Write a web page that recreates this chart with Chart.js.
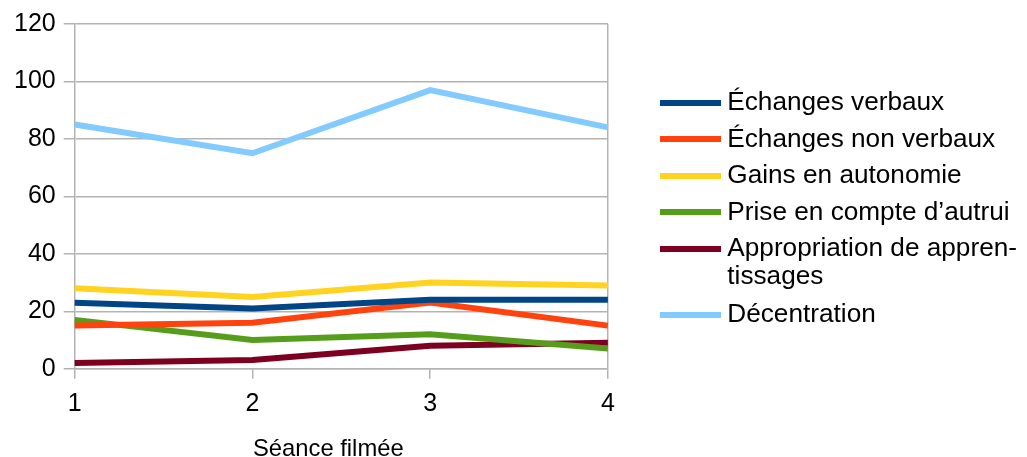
<!DOCTYPE html>
<html>
<head>
<meta charset="utf-8">
<script src="https://cdn.jsdelivr.net/npm/chart.js@4/dist/chart.umd.min.js"></script>
<style>
  html, body { margin: 0; padding: 0; background: #ffffff; }
  #wrap { width: 1027px; height: 457px; }
</style>
</head>
<body>
<div id="wrap"><canvas id="chart" width="1027" height="457"></canvas></div>
<script>
// Sessions filmed, and the observed counts per indicator
const seances = ['1', '2', '3', '4'];
const echangesVerbaux = [23, 21, 24, 24];
const echangesNonVerbaux = [15, 16, 23, 15];
const gainsAutonomie = [28, 25, 30, 29];
const priseEnCompte = [17, 10, 12, 7];
const appropriation = [2, 3, 8, 9];
const decentration = [85, 75, 97, 84];

const seriesNames = [
  'Échanges verbaux',
  'Échanges non verbaux',
  'Gains en autonomie',
  'Prise en compte d\u2019autrui',
  ['Appropriation de appren-', 'tissages'],
  'Décentration'
];
const seriesValues = [echangesVerbaux, echangesNonVerbaux, gainsAutonomie, priseEnCompte, appropriation, decentration];
const seriesColors = ['#004586', '#ff420e', '#ffd320', '#579d1c', '#7e0021', '#83caff'];

const yTicks = [0, 20, 40, 60, 80, 100, 120];
const xTitle = 'Séance filmée';

const FONT = '"Liberation Sans", Arial, sans-serif';
const GRID = '#b3b3b3';
const LINE_W = 6;

// short line swatch used as the key symbol of each series
function swatch(color) {
  const c = document.createElement('canvas');
  c.width = 61;
  c.height = LINE_W;
  const g = c.getContext('2d');
  g.fillStyle = color;
  g.fillRect(0, 0, c.width, c.height);
  return c;
}

// x-axis caption, set a little left of the plot centre, under the tick labels
const axisCaption = {
  id: 'axisCaption',
  afterDraw(chart) {
    const { ctx, chartArea } = chart;
    ctx.save();
    ctx.font = '23.8px ' + FONT;
    ctx.fillStyle = '#000000';
    ctx.textAlign = 'center';
    ctx.textBaseline = 'alphabetic';
    ctx.fillText(xTitle, (chartArea.left + chartArea.right) / 2 - 13, 456);
    ctx.restore();
  }
};

const datasets = seriesValues.map((vals, i) => ({
  label: seriesNames[i],
  data: vals,
  borderColor: seriesColors[i],
  backgroundColor: seriesColors[i],
  borderWidth: LINE_W,
  pointRadius: 0,
  pointHoverRadius: 0,
  tension: 0,
  fill: false
}));

new Chart(document.getElementById('chart'), {
  type: 'line',
  data: { labels: seances, datasets },
  plugins: [axisCaption],
  options: {
    responsive: false,
    animation: false,
    layout: { padding: { top: 24, right: 0, left: 6, bottom: 28.3 } },
    plugins: {
      tooltip: { enabled: false },
      legend: {
        position: 'right',
        align: 'start',
        maxWidth: 440,
        // blank heading used only to push the key down beside the plot
        title: { display: true, text: ' ', font: { size: 12, lineHeight: 1.2 }, padding: { top: 41, bottom: 0 } },
        labels: {
          color: '#000000',
          font: { family: FONT, size: 26.2, lineHeight: 1.07 },
          usePointStyle: true,
          pointStyleWidth: 48,
          boxHeight: LINE_W,
          padding: 10.3,
          generateLabels: (chart) => chart.data.datasets.map((ds, i) => ({
            text: ds.label,
            fontColor: '#000000',
            fillStyle: ds.borderColor,
            strokeStyle: ds.borderColor,
            lineWidth: 0,
            pointStyle: swatch(ds.borderColor),
            hidden: false,
            datasetIndex: i
          }))
        }
      }
    },
    scales: {
      x: {
        offset: false,
        grid: {
          color: (ctx) => (ctx.index === seances.length - 1 ? GRID : 'rgba(0,0,0,0)'),
          tickColor: GRID,
          tickLength: 10,
          lineWidth: 1.5
        },
        border: { color: GRID, width: 1.5 },
        ticks: { color: '#000000', font: { family: FONT, size: 25, lineHeight: 1.0 }, padding: 12.5, maxRotation: 0 }
      },
      y: {
        min: 0,
        max: 120,
        afterBuildTicks: (axis) => { axis.ticks = yTicks.map(v => ({ value: v })); },
        grid: { color: GRID, tickColor: GRID, tickLength: 11, lineWidth: 1.5 },
        border: { color: GRID, width: 1.5 },
        ticks: { color: '#000000', font: { family: FONT, size: 25 }, padding: 8 }
      },
      // empty strip between the plot and the key
      gap: {
        type: 'linear',
        position: 'right',
        display: true,
        grid: { display: false },
        border: { display: false },
        ticks: { display: false },
        afterFit: (scale) => { scale.width = 48; }
      }
    }
  }
});
</script>
</body>
</html>
